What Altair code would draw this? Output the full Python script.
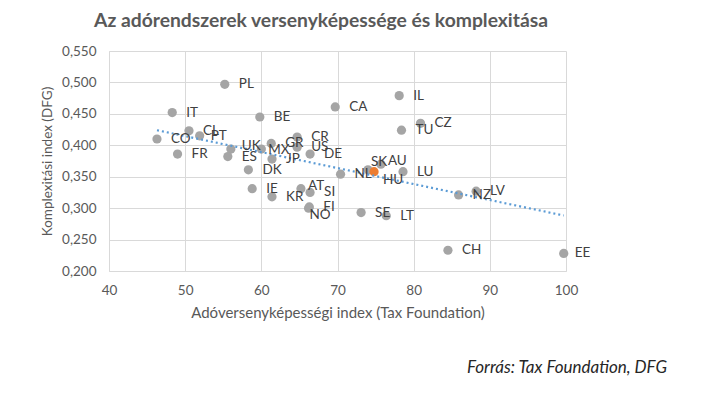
import altair as alt
import pandas as pd

countries = ["PL", "IT", "BE", "CA", "IL", "CZ", "TU", "CO", "CL", "PT", "FR", "UK", "ES", "DK",
             "MX", "GR", "JP", "CR", "US", "DE", "NL", "SK", "AU", "HU", "LU", "NZ", "LV", "CH",
             "EE", "SE", "LT", "IE", "KR", "AT", "SI", "FI", "NO"]
tax_index = [55.2, 48.3, 59.8, 69.7, 78.1, 80.9, 78.4, 46.3, 50.5, 51.9, 49.0, 56.0, 55.6, 58.3,
             60.0, 61.3, 61.4, 64.7, 64.7, 66.4, 70.4, 74.0, 75.7, 74.8, 78.6, 85.9, 88.2, 84.5,
             99.7, 73.1, 76.4, 58.8, 61.4, 65.2, 66.4, 66.3, 66.2]
complexity = [0.497, 0.452, 0.445, 0.461, 0.479, 0.435, 0.424, 0.410, 0.423, 0.415, 0.386, 0.394,
              0.382, 0.361, 0.394, 0.403, 0.378, 0.413, 0.397, 0.386, 0.354, 0.361, 0.370, 0.358,
              0.358, 0.321, 0.327, 0.233, 0.228, 0.293, 0.288, 0.331, 0.318, 0.331, 0.325, 0.302,
              0.300]
x_ticks = [40, 50, 60, 70, 80, 90, 100]
y_ticks = [0.20, 0.25, 0.30, 0.35, 0.40, 0.45, 0.50, 0.55]

title_text = "Az adórendszerek versenyképessége és komplexitása"
x_title = "Adóversenyképességi index (Tax Foundation)"
y_title = "Komplexitási index (DFG)"
footnote = "Forrás: Tax Foundation, DFG"
highlight = "HU"

# label placement tweaks (pixels), style only
default_dx = 14
label_offsets = {"SK": (3, -8), "AU": (7, -3), "HU": (9, 8), "MX": (7, 1), "UK": (11, -3),
                 "PT": (11, 0), "AT": (7, -3), "NO": (1, 7), "EE": (11, 0)}

df = pd.DataFrame({"country": countries, "x": tax_index, "y": complexity})

FONT = "Lato"
GRAY_TXT = "#595959"

xs = alt.Scale(domain=[40, 100], nice=False, zero=False)
ys = alt.Scale(domain=[0.2, 0.55], nice=False, zero=False)

X = alt.X("x:Q", scale=xs, axis=alt.Axis(values=x_ticks, title=x_title, labelPadding=12,
                                          titlePadding=9, format="d", labelFlush=False,
                                          labelOverlap=False, titleFontSize=15))
Y = alt.Y("y:Q", scale=ys, axis=alt.Axis(values=y_ticks, title=y_title, labelPadding=13,
                                          titlePadding=7, labelFlush=False, labelOverlap=False,
                                          titleFontSize=13.5,
                                          labelExpr="replace(format(datum.value, '.3f'), '.', ',')"))

base = alt.Chart(df).encode(x=X, y=Y)

points = base.transform_filter(f"datum.country != '{highlight}'").mark_circle(
    size=85, color="#a5a5a5", opacity=1)
hu_point = base.transform_filter(f"datum.country == '{highlight}'").mark_circle(
    size=85, color="#ed7d31", opacity=1)

trend = alt.Chart(df).transform_regression("x", "y").mark_line(
    color="#5b9bd5", strokeDash=[2, 3], strokeWidth=2.2).encode(x=X, y=Y)

special = list(label_offsets.keys())
special_expr = "indexof([" + ",".join(f"'{c}'" for c in special) + "], datum.country) < 0"
label_style = dict(align="left", baseline="middle", font=FONT, fontSize=13.5, color="#404040")
labels = [base.transform_filter(special_expr).mark_text(dx=default_dx, **label_style).encode(text="country:N")]
for c, (dx, dy) in label_offsets.items():
    labels.append(base.transform_filter(f"datum.country == '{c}'").mark_text(
        dx=dx, dy=dy, **label_style).encode(text="country:N"))

foot = alt.Chart(pd.DataFrame({"t": [footnote]})).mark_text(
    align="right", baseline="middle", font=FONT, fontSize=17, fontStyle="italic",
    color="#262626").encode(text="t:N", x=alt.value(558), y=alt.value(317))

chart = alt.layer(points, hu_point, trend, *labels, foot).properties(
    width=457, height=220,
    autosize=alt.AutoSizeParams(type="none"),
    padding={"left": 101, "top": 43, "right": 150, "bottom": 120},
    title=alt.Title(title_text, anchor="start", frame="group", dx=-15, offset=13,
                    font=FONT, fontSize=19.3, fontWeight="bold", color=GRAY_TXT),
).configure_axis(
    gridColor="#d9d9d9", domainColor="#d9d9d9", ticks=False,
    labelColor=GRAY_TXT, labelFont=FONT, labelFontSize=13.5,
    titleColor=GRAY_TXT, titleFont=FONT, titleFontWeight="normal",
).configure_view(stroke=None)

chart.save("out.html", embed_options={"renderer": "svg", "actions": False})
